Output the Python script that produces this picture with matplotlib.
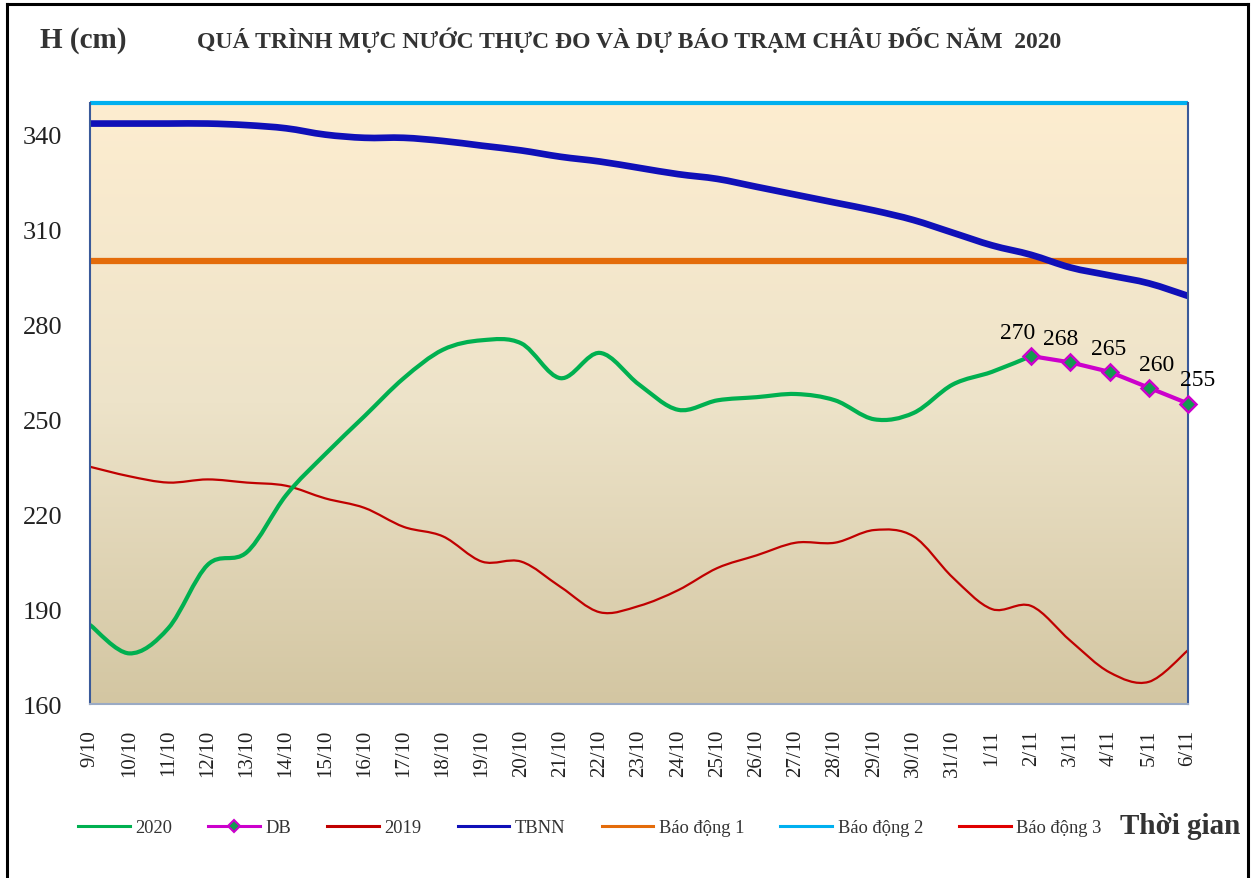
import numpy as np
import matplotlib
matplotlib.use('Agg')
import matplotlib.pyplot as plt
from matplotlib.path import Path
from matplotlib.patches import PathPatch
from matplotlib.lines import Line2D
from matplotlib.colors import LinearSegmentedColormap

# ---------------- data ----------------
dates = ['9/10', '10/10', '11/10', '12/10', '13/10', '14/10', '15/10', '16/10',
         '17/10', '18/10', '19/10', '20/10', '21/10', '22/10', '23/10', '24/10',
         '25/10', '26/10', '27/10', '28/10', '29/10', '30/10', '31/10', '1/11',
         '2/11', '3/11', '4/11', '5/11', '6/11']

h2020 = [185, 176, 184, 204, 208, 226, 239, 251, 263, 272, 275, 274, 263,
         271, 261, 253, 256, 257, 258, 256, 250, 252, 261, 265, 270]

db_dates = ['2/11', '3/11', '4/11', '5/11', '6/11']
db = [270, 268, 265, 260, 255]

h2019 = [235, 232, 230, 231, 230, 229, 225, 222, 216, 213, 205, 205, 197,
         189, 191, 196, 203, 207, 211, 211, 215, 213, 200, 190, 191, 180,
         170, 167, 177]

tbnn = [343.5, 343.5, 343.5, 343.5, 343, 342, 340, 339, 339, 338, 336.5,
        335, 333, 331.5, 329.5, 327.5, 326, 323.5, 321, 318.5, 316, 313,
        309, 305, 302, 298, 295.5, 293, 289]

bao_dong_1 = 300
bao_dong_2 = 350
bao_dong_3 = 400

y_ticks = [160, 190, 220, 250, 280, 310, 340]
y_min, y_max = 160, 350

# ---------------- style ----------------
C_2020 = '#00B050'
C_DB = '#CC00CC'
C_DB_FACE = '#149A50'
C_2019 = '#C00000'
C_TBNN = '#1010B8'
C_BD1 = '#E46C0A'
C_BD2 = '#00B0F0'
C_BD3 = '#E00000'
SERIF = ['Liberation Serif', 'DejaVu Serif']

plt.rcParams['font.family'] = SERIF


def smooth_path(xs, ys):
    pts = np.column_stack([np.asarray(xs, float), np.asarray(ys, float)])
    n = len(pts)
    verts = [pts[0]]
    codes = [Path.MOVETO]
    for i in range(n - 1):
        p0 = pts[max(i - 1, 0)]
        p1 = pts[i]
        p2 = pts[i + 1]
        p3 = pts[min(i + 2, n - 1)]
        c1 = p1 + (p2 - p0) / 6.0
        c2 = p2 - (p3 - p1) / 6.0
        verts += [c1, c2, p2]
        codes += [Path.CURVE4] * 3
    return Path(verts, codes)


fig = plt.figure(figsize=(12.58, 8.79), dpi=100)
ax = fig.add_axes([90 / 1258, 1 - 705 / 879, (1188 - 90) / 1258, (705 - 104) / 879])

x_all = np.arange(len(dates))
x2020 = x_all[:len(h2020)]
x_db = np.array([dates.index(d) for d in db_dates])

ax.set_xlim(0, len(dates) - 1)
ax.set_ylim(y_min, y_max)

# gradient background
cmap = LinearSegmentedColormap.from_list('bg', ['#D3C6A2', '#EDE3C9', '#FDEDD0'])
grad = np.linspace(0, 1, 256).reshape(-1, 1)
ax.imshow(grad, cmap=cmap, origin='lower', aspect='auto',
          extent=[0, len(dates) - 1, y_min, y_max], zorder=0)

# alert lines
ax.plot([0, len(dates) - 1], [bao_dong_1] * 2, color=C_BD1, lw=4.5, zorder=2,
        solid_capstyle='butt')
ax.plot([0, len(dates) - 1], [bao_dong_2] * 2, color=C_BD2, lw=3, zorder=5,
        clip_on=False, solid_capstyle='butt')
ax.plot([0, len(dates) - 1], [bao_dong_3] * 2, color=C_BD3, lw=1.5, zorder=2)

# smoothed series
ax.add_patch(PathPatch(smooth_path(x_all, tbnn), fill=False, edgecolor=C_TBNN,
                       lw=4.8, zorder=3, capstyle='butt'))
ax.add_patch(PathPatch(smooth_path(x_all, h2019), fill=False, edgecolor=C_2019,
                       lw=1.6, zorder=3))
ax.add_patch(PathPatch(smooth_path(x2020, h2020), fill=False, edgecolor=C_2020,
                       lw=3, zorder=4))

# forecast
ax.plot(x_db, db, color=C_DB, lw=3, marker='D', markersize=8.5,
        markerfacecolor=C_DB_FACE, markeredgecolor=C_DB, markeredgewidth=1.8,
        zorder=6, clip_on=False)
label_dx = [-10, -7, -1, 6, 7]
for xi, yi, dx in zip(x_db, db, label_dx):
    ax.annotate(str(yi), (xi, yi), xytext=(dx, 17), textcoords='offset points',
                ha='center', va='center', fontsize=17, color='black', zorder=7,
                annotation_clip=False)

# axes styling
ax.set_yticks(y_ticks)
ax.set_yticklabels([str(v) for v in y_ticks], fontsize=19, color='#222222')
ax.set_xticks(x_all)
ax.set_xticklabels(dates, rotation=90, fontsize=15, color='#222222')
ax.tick_params(axis='y', length=0, pad=20)
ax.tick_params(axis='x', length=0, pad=18)
ax.spines['top'].set_visible(False)
ax.spines['left'].set_color('#3A5A9A')
ax.spines['left'].set_linewidth(1.5)
ax.spines['right'].set_color('#3A5A9A')
ax.spines['right'].set_linewidth(1.5)
ax.spines['bottom'].set_color('#9AAAC4')
ax.spines['bottom'].set_linewidth(1.5)
for s in ax.spines.values():
    s.set_zorder(5)

# titles
fig.text(40 / 1258, 1 - 40 / 879, 'H (cm)', fontsize=21, fontweight='bold',
         ha='left', va='center', color='#333333')
fig.text(629 / 1258, 1 - 40 / 879,
         'QUÁ TRÌNH MỰC NƯỚC THỰC ĐO VÀ DỰ BÁO TRẠM CHÂU ĐỐC NĂM  2020',
         fontsize=17, fontweight='bold', ha='center', va='center', color='#333333')
fig.text(1120 / 1258, 1 - 827 / 879, 'Thời gian', fontsize=21, fontweight='bold',
         ha='left', va='center', color='#333333')

# legend
handles = [
    Line2D([], [], color=C_2020, lw=2.2),
    Line2D([], [], color=C_DB, lw=2.2, marker='D', markersize=6,
           markerfacecolor=C_DB_FACE, markeredgecolor=C_DB, markeredgewidth=1.5),
    Line2D([], [], color=C_2019, lw=2.2),
    Line2D([], [], color=C_TBNN, lw=2.2),
    Line2D([], [], color=C_BD1, lw=2.2),
    Line2D([], [], color=C_BD2, lw=2.2),
    Line2D([], [], color=C_BD3, lw=2.2),
]
labels = ['2020', 'DB', '2019', 'TBNN', 'Báo động 1', 'Báo động 2', 'Báo động 3']
leg = fig.legend(handles, labels, loc='center left',
                 bbox_to_anchor=(78 / 1258, 1 - 829 / 879), ncol=7, frameon=False,
                 fontsize=13.3, handlelength=2.8, handletextpad=0.3,
                 columnspacing=1.95, borderaxespad=0, borderpad=0)
for t in leg.get_texts():
    t.set_color('#333333')

# outer frame (left, top, right)
fw = 2.2
fig.add_artist(Line2D([7 / 1258, 7 / 1258], [0, 1 - 5 / 879], color='black',
                      lw=fw, transform=fig.transFigure))
fig.add_artist(Line2D([7 / 1258, 1248 / 1258], [1 - 5 / 879, 1 - 5 / 879],
                      color='black', lw=fw, transform=fig.transFigure))
fig.add_artist(Line2D([1248 / 1258, 1248 / 1258], [0, 1 - 5 / 879], color='black',
                      lw=fw, transform=fig.transFigure))

fig.savefig('out.png', dpi=100)
